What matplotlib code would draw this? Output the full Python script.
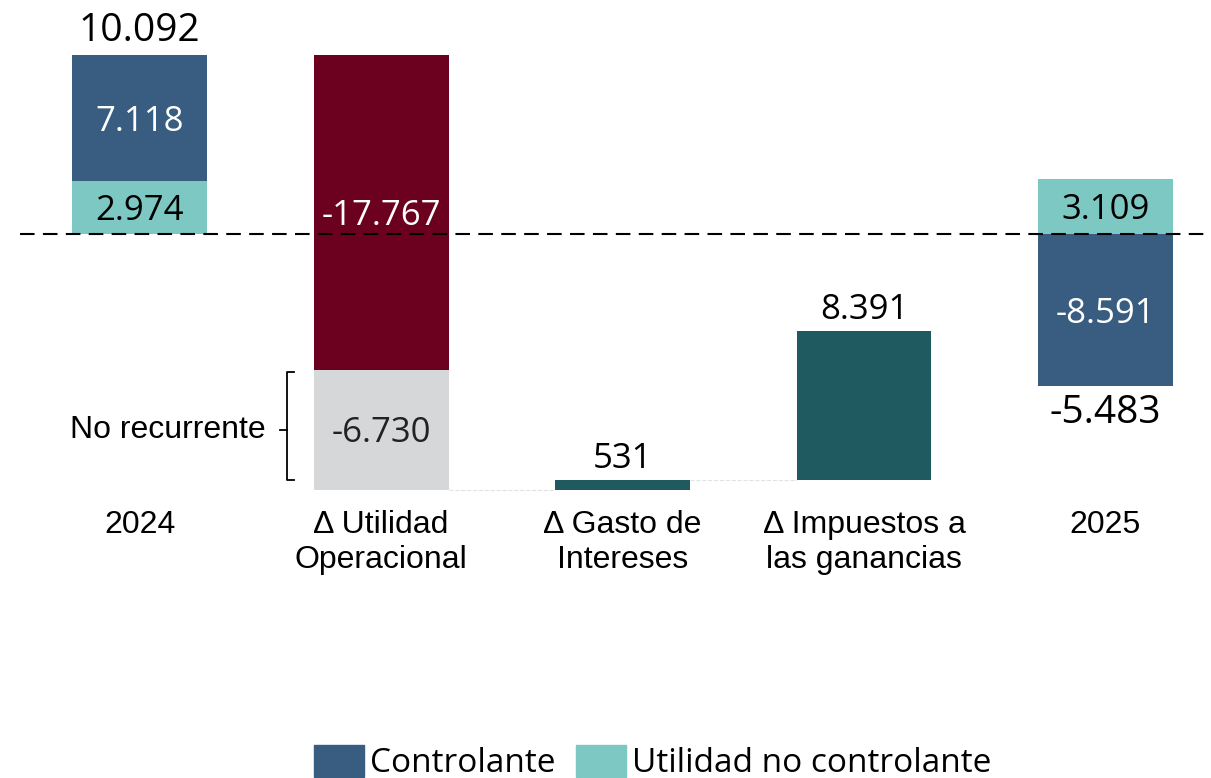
import numpy as np
import matplotlib.pyplot as plt
from matplotlib.patches import Patch

# Waterfall of net income 2024 -> 2025 (figures in thousands)
categories = ['2024', 'Δ Utilidad\nOperacional', 'Δ Gasto de\nIntereses',
              'Δ Impuestos a\nlas ganancias', '2025']
start_controlante, start_no_controlante = 7.118, 2.974
delta_operacional = -17.767
delta_no_recurrente = -6.730
delta_intereses = 0.531
delta_impuestos = 8.391
end_controlante, end_no_controlante = -8.591, 3.109

c_blue = '#385d80'
c_teal = '#7dc8c3'
c_red = '#6c001f'
c_grey = '#d6d7d9'
c_dark = '#1f5a60'

num_font = 'Open Sans'
cat_font = 'Liberation Sans'

fig = plt.figure(figsize=(12.11, 7.78), dpi=100)
ax = fig.add_axes([0, 0, 1, 1])
ax.set_xlim(-0.578, 4.437)
ax.set_ylim(-30.65, 13.18)
ax.axis('off')

x = np.arange(len(categories))
w = 0.559
dy = 0.2  # nudge so digits sit visually centred

def fmt(v):
    if abs(v) < 1:
        return f'{v * 1000:.0f}'
    return f'{v:.3f}'

# 2024 stacked start
start_total = start_controlante + start_no_controlante
ax.bar(x[0], start_no_controlante, w, bottom=0, color=c_teal)
ax.bar(x[0], start_controlante, w, bottom=start_no_controlante, color=c_blue)
ax.text(x[0], start_no_controlante / 2 - dy, fmt(start_no_controlante), ha='center',
        va='center', fontsize=25, color='black', family=num_font)
ax.text(x[0], start_no_controlante + start_controlante / 2 - dy, fmt(start_controlante),
        ha='center', va='center', fontsize=25, color='white', family=num_font)
ax.annotate(fmt(start_total), (x[0], start_total), xytext=(0, 17), textcoords='offset points',
            ha='center', va='center', fontsize=28, family=num_font)

# operating delta, split into recurring and non recurring parts
level = start_total
ax.bar(x[1], delta_operacional, w, bottom=level, color=c_red)
ax.text(x[1], level + delta_operacional / 2 - dy, fmt(delta_operacional), ha='center',
        va='center', fontsize=25, color='white', family=num_font)
level += delta_operacional
ax.bar(x[1], delta_no_recurrente, w, bottom=level, color=c_grey)
ax.text(x[1], level + delta_no_recurrente / 2 - dy, fmt(delta_no_recurrente), ha='center',
        va='center', fontsize=25, color='#222222', family=num_font)
nr_top, nr_bottom = level, level + delta_no_recurrente
level += delta_no_recurrente

# interest and taxes
ax.plot([x[1] + w / 2, x[2] - w / 2], [level, level], color='#e2e2e2', lw=0.8, ls='--')
ax.bar(x[2], delta_intereses, w, bottom=level, color=c_dark)
level += delta_intereses
ax.annotate(fmt(delta_intereses), (x[2], level), xytext=(0, 15), textcoords='offset points',
            ha='center', va='center', fontsize=25, family=num_font)
ax.plot([x[2] + w / 2, x[3] - w / 2], [level, level], color='#e2e2e2', lw=0.8, ls='--')
ax.bar(x[3], delta_impuestos, w, bottom=level, color=c_dark)
level += delta_impuestos
ax.annotate(fmt(delta_impuestos), (x[3], level), xytext=(0, 15), textcoords='offset points',
            ha='center', va='center', fontsize=25, family=num_font)

# 2025 stacked end, net result taken from the waterfall
ax.bar(x[4], end_no_controlante, w, bottom=0, color=c_teal)
ax.bar(x[4], end_controlante, w, bottom=0, color=c_blue)
ax.text(x[4], end_no_controlante / 2 - dy, fmt(end_no_controlante), ha='center', va='center',
        fontsize=25, color='black', family=num_font)
ax.text(x[4], end_controlante / 2 - dy, fmt(end_controlante), ha='center', va='center',
        fontsize=25, color='white', family=num_font)
ax.annotate(fmt(level), (x[4], end_controlante), xytext=(0, -19),
            textcoords='offset points', ha='center', va='center', fontsize=28, family=num_font)

# zero reference line
ax.plot([-0.495, 4.437], [0, 0], color='black', lw=1.5, dashes=(7, 4), zorder=5)

# category labels
for xi, lab in zip(x, categories):
    ax.text(xi, 0.345, lab, transform=ax.get_xaxis_transform(), ha='center', va='top',
            fontsize=23, family=cat_font, linespacing=1.25)

# bracket for the non recurring part
bx = x[1] - w / 2 - 0.11
hook = 0.03
ax.plot([bx + hook, bx, bx, bx + hook], [nr_top - 0.1, nr_top - 0.1, nr_bottom + 0.55,
        nr_bottom + 0.55], color='black', lw=1.3)
mid = (nr_top + nr_bottom) / 2
ax.plot([bx, bx - 0.03], [mid, mid], color='black', lw=1.3)
ax.text(bx - 0.09, mid, 'No recurrente', ha='right', va='center', fontsize=23,
        family=cat_font)

handles = [Patch(color=c_blue, label='Controlante'),
           Patch(color=c_teal, label='Utilidad no controlante')]
fig.legend(handles=handles, loc='center', bbox_to_anchor=(0.539, 0.02), ncol=2,
           frameon=False, prop={'family': 'Open Sans', 'size': 24},
           handlelength=1.5, handleheight=1.1, handletextpad=0.2, columnspacing=0.6,
           borderpad=0)

fig.savefig('out.png', dpi=100)
